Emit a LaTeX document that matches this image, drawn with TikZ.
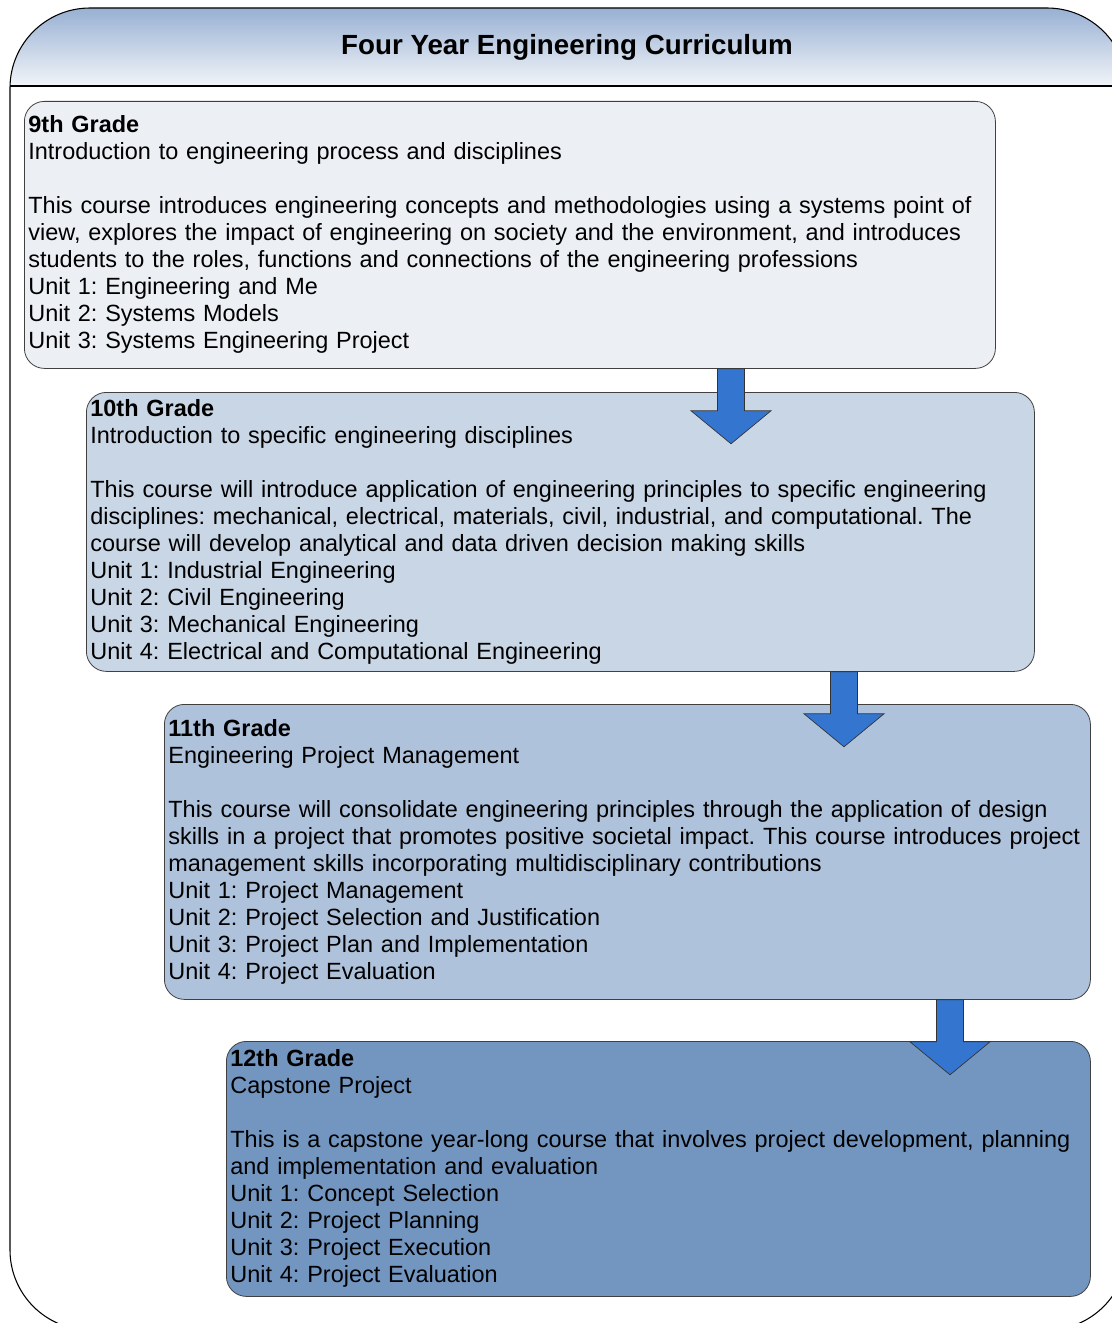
\documentclass[tikz,border=0pt]{standalone}
\usepackage{fontspec}
\setmainfont{Liberation Sans}
\usetikzlibrary{calc}
\frenchspacing
\hyphenpenalty=10000
\definecolor{gradeI}{HTML}{ECF0F5}
\definecolor{gradeII}{HTML}{C9D6E6}
\definecolor{gradeIII}{HTML}{AFC2DB}
\definecolor{gradeIV}{HTML}{7396C1}
\definecolor{arrblue}{HTML}{3375CF}
\definecolor{headtop}{HTML}{98B0D3}
\definecolor{headbot}{HTML}{F2F5F9}
\tikzset{
  grade/.style={rectangle, rounded corners=15pt, draw=black!75, line width=0.6pt, anchor=north west,
    inner xsep=3pt, inner ysep=0pt, align=left, font=\fontsize{17.6}{20.25}\selectfont},
  flowarr/.style={fill=arrblue, draw=black!80, line width=0.5pt, line join=miter},
}

\begin{document}
\begin{tikzpicture}[x=0.75pt, y=-0.75pt]
  \path[use as bounding box] (0,0) rectangle (1112,1323);
  \clip (0,0) rectangle (1112,1323);
  % frame and title bar
  \begin{scope}
    \clip[rounded corners=60pt] (10,8) rectangle (1127,1330);
    \shade[top color=headtop, bottom color=headbot] (0,8) rectangle (1112,86);
  \end{scope}
  \draw[line width=0.8pt, rounded corners=60pt] (10,8) rectangle (1127,1330);
  \draw[line width=0.8pt] (10,86) -- (1112,86);
  \node[font=\bfseries\fontsize{20.8}{24}\selectfont] (title) at (567,47) {Four Year Engineering Curriculum};

  % grade boxes
  \node[grade, fill=gradeI, text width=722.25pt, minimum height=200.25pt] (g9) at (24,101)
    {\textbf{9th Grade}\\
     Introduction to engineering process and disciplines\\
     ~\\
     This course introduces engineering concepts and methodologies using a systems point of\\
     view, explores the impact of engineering on society and the environment, and introduces\\
     students to the roles, functions and connections of the engineering professions\\
     Unit 1: Engineering and Me\\
     Unit 2: Systems Models\\
     Unit 3: Systems Engineering Project};
  \node[grade, fill=gradeII, text width=705pt, minimum height=209.25pt] (g10) at (86,392)
    {\textbf{10th Grade}\\
     Introduction to specific engineering disciplines\\
     ~\\
     This course will introduce application of engineering principles to specific engineering\\
     disciplines: mechanical, electrical, materials, civil, industrial, and computational. The\\
     course will develop analytical and data driven decision making skills\\
     Unit 1: Industrial Engineering\\
     Unit 2: Civil Engineering\\
     Unit 3: Mechanical Engineering\\
     Unit 4: Electrical and Computational Engineering};
  \node[grade, fill=gradeIII, text width=688.5pt, minimum height=221.25pt] (g11) at (164,704)
    {\textbf{11th Grade}\\
     Engineering Project Management\\
     ~\\
     This course will consolidate engineering principles through the application of design\\
     skills in a project that promotes positive societal impact. This course introduces project\\
     management skills incorporating multidisciplinary contributions\\
     Unit 1: Project Management\\
     Unit 2: Project Selection and Justification\\
     Unit 3: Project Plan and Implementation\\
     Unit 4: Project Evaluation};
  \node[grade, fill=gradeIV, text width=642pt, minimum height=191.25pt] (g12) at (226,1041)
    {\textbf{12th Grade}\\
     Capstone Project\\
     ~\\
     This is a capstone year-long course that involves project development, planning\\
     and implementation and evaluation\\
     Unit 1: Concept Selection\\
     Unit 2: Project Planning\\
     Unit 3: Project Execution\\
     Unit 4: Project Evaluation};

  % block arrows
  \foreach \a/\x in {g9/731, g10/844, g11/950}
    \draw[flowarr] (\x,0 |- \a.south) ++(-13.5,0) -- ++(0,42) -- ++(-26.5,0) -- ++(40,33)
      -- ++(40,-33) -- ++(-26.5,0) -- ++(0,-42) -- cycle;
\end{tikzpicture}
\end{document}
